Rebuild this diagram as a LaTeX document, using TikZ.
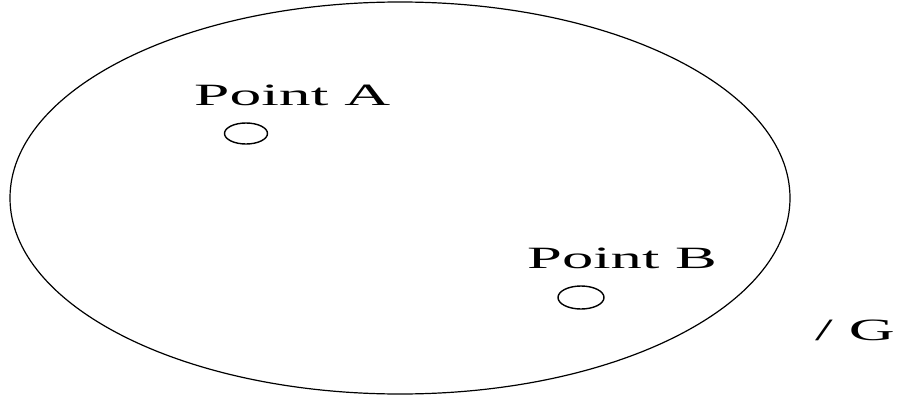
\documentclass[tikz,border=0pt]{standalone}
\usepackage{fontspec}
\setmainfont{Liberation Serif}
\begin{document}
\begin{tikzpicture}[x=1pt,y=-1pt,
  lbl/.style={inner sep=0pt,anchor=base west,font=\fontsize{31}{36}\selectfont}]
\useasboundingbox (0,0) rectangle (900,396);
\draw[line width=1.2pt] (400,198) ellipse [x radius=390, y radius=196];
\node[lbl] (la) at (194,106) {\scalebox{2.05}[1]{Point A}};
\draw[line width=1.4pt] (246,133.5) ellipse [x radius=21.5, y radius=10.5];
\node[lbl] (lb) at (527,268) {\scalebox{2.02}[1]{Point B}};
\draw[line width=1.4pt] (581,297.5) ellipse [x radius=23, y radius=11.5];
\node[lbl] (g) at (815,340) {\scalebox{2.05}[1]{/ G}};
\end{tikzpicture}
\end{document}
